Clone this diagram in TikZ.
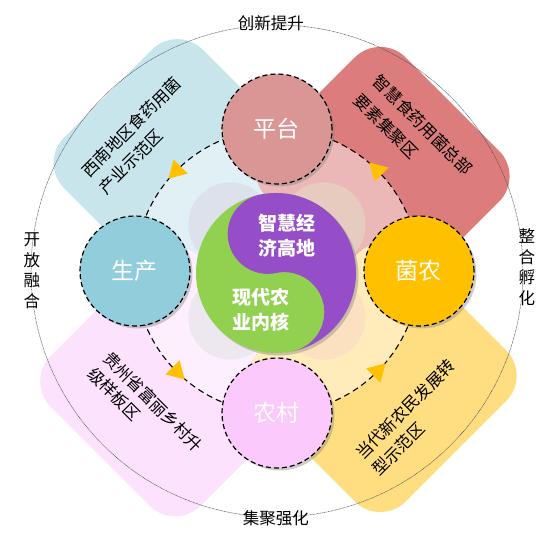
\documentclass[tikz,border=0pt]{standalone}
\usepackage{fontspec}
\setmainfont{Noto Sans CJK SC}
\usetikzlibrary{shadows}

\definecolor{sqBlue}{RGB}{200,229,236}
\definecolor{sqRed}{RGB}{221,124,124}
\definecolor{sqYellow}{RGB}{255,222,130}
\definecolor{sqPink}{RGB}{252,226,252}
\definecolor{hubRose}{RGB}{217,150,148}
\definecolor{hubBlue}{RGB}{146,205,220}
\definecolor{hubAmber}{RGB}{255,192,0}
\definecolor{hubPink}{RGB}{251,201,251}
\definecolor{yyGreen}{RGB}{146,208,80}
\definecolor{yyPurple}{RGB}{150,78,200}
\definecolor{petLav}{RGB}{218,214,230}
\definecolor{petBeige}{RGB}{226,220,196}
\definecolor{petPeach}{RGB}{250,216,200}
\definecolor{petGrey}{RGB}{224,228,228}

\pgfdeclarelayer{back}
\pgfsetlayers{back,main}

\begin{document}
\begin{tikzpicture}[x=1pt, y=1pt,
    hub/.style={circle, minimum size=110pt, draw=black, line width=1.2pt,
        dash pattern=on 5pt off 3pt, text=white,
        drop shadow={opacity=0.4, shadow xshift=2.5pt, shadow yshift=-2.5pt},
        font=\fontsize{23}{23}\selectfont},
    core/.style={circle, minimum size=160pt, fill=yyGreen,
        drop shadow={opacity=0.4, shadow xshift=2.5pt, shadow yshift=-2.5pt}},
    coretext/.style={text=white, align=center, font=\fontsize{19}{25}\selectfont\bfseries},
    zonetext/.style={align=left, font=\fontsize{16.5}{#1}\selectfont},
    ringlabel/.style={align=center, font=\fontsize{16.5}{20.5}\selectfont},
    zone/.style={rounded corners=36pt},
    ring/.style={line width=1.1pt, dash pattern=on 6pt off 4pt},
    tri/.style={fill=hubAmber}]
    \useasboundingbox (-277,-265) rectangle (273,271);

    % Centre and the four hubs
    \node[core] (core) at (-1,-2) {};
    \node[hub, fill=hubRose] (pingtai) at (90:142) {平台};
    \node[hub, fill=hubBlue] (shengchan) at (180:142) {生产};
    \node[hub, fill=hubAmber] (junnong) at (0:142) {菌农};
    \node[hub, fill=hubPink] (nongcun) at (270:142) {农村};

    % Yin-yang
    \begin{scope}[shift={(core.center)}, rotate=12]
        \fill[yyPurple] (0,80) arc[start angle=90, end angle=-90, radius=80]
            arc[start angle=-90, end angle=90, radius=40]
            arc[start angle=-90, end angle=-270, radius=40] -- cycle;
    \end{scope}
    \node[coretext] (hightext) at (10,35) {智慧经\\济高地};
    \node[coretext] (basetext) at (-16,-39) {现代农\\业内核};

    \begin{pgfonlayer}{back}
        % Zones
        \fill[zone, sqBlue, rotate=135] (45,-104) rectangle (245,92);
        \fill[zone, sqRed, rotate=45] (45,-108) rectangle (242,96);
        \fill[zone, sqPink, rotate=225] (45,-100) rectangle (256,112);
        \fill[zone, sqYellow, rotate=315] (45,-108) rectangle (254,106);
        \fill[white, opacity=0.45] (0,0) circle (142);
        \foreach \a/\c in {135/petLav, 45/petBeige, 315/petPeach, 225/petGrey}
            \fill[\c, opacity=0.55] (\a:66) circle (42);

        % Outer ring
        \draw[gray!60!black, line width=0.5pt, dash pattern=on 0.8pt off 0.6pt] (0,0) circle (246);

        % Cycle
        \draw[ring] (pingtai.center) to[out=180, in=90] (shengchan.center);
        \draw[ring] (shengchan.center) to[out=270, in=180] (nongcun.center);
        \draw[ring] (nongcun.center) to[out=0, in=270] (junnong.center);
        \draw[ring] (junnong.center) to[out=90, in=0] (pingtai.center);
        \foreach \a in {45,135,225,315}
            \fill[tri, rotate=\a] (142,11.5) -- (132,-5.8) -- (152,-5.8) -- cycle;
    \end{pgfonlayer}

    % Zone texts
    \node[zonetext=24, rotate=45] (zoneTL) at (-137,135.5) {西南地区食药用菌\\产业示范区};
    \node[zonetext=27, rotate=-45] (zoneTR) at (136.5,136.5) {智慧食药用菌总部\\要素集聚区};
    \node[zonetext=22, rotate=-45] (zoneBL) at (-131.5,-138.5) {贵州省富丽乡村升\\级样板区};
    \node[zonetext=23, rotate=45] (zoneBR) at (136.5,-146.5) {当代新农民发展转\\型示范区};

    % Ring labels
    \node[ringlabel] (lblTop) at (-6,248) {创新提升};
    \node[ringlabel] (lblBottom) at (-1,-247) {集聚强化};
    \node[ringlabel] (lblLeft) at (-245,0) {开\\放\\融\\合};
    \node[ringlabel] (lblRight) at (250,4) {整\\合\\孵\\化};
\end{tikzpicture}
\end{document}
